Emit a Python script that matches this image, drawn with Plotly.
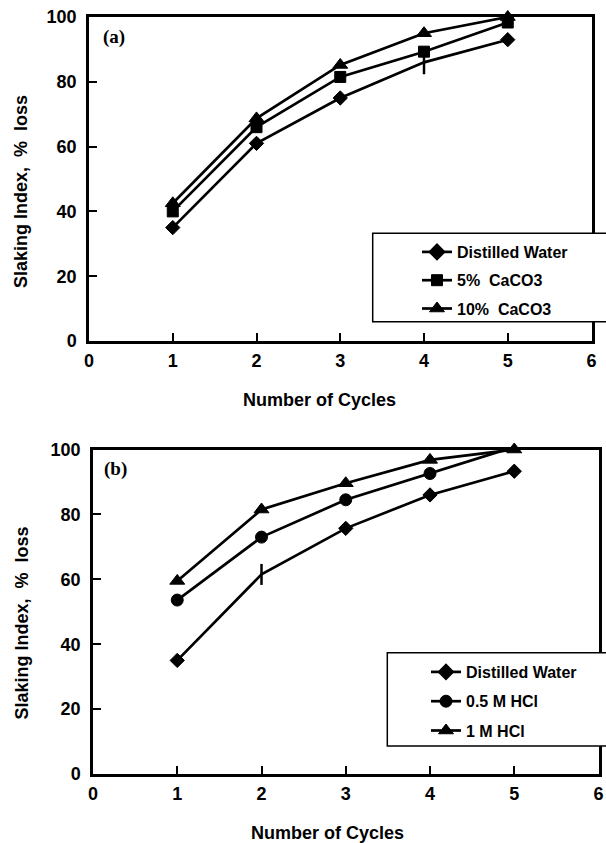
import plotly.graph_objects as go

# ---------------- data ----------------
cycles = [1, 2, 3, 4, 5]

# panel (a)
a_distilled = [35, 61, 75, 86, 93]
a_caco3_5 = [40, 66, 81.5, 89.3, 98.3]
a_caco3_10 = [42.5, 68.7, 85.2, 95, 100]

# panel (b)
b_distilled = [35, 61.5, 75.7, 86, 93.3]
b_hcl_05 = [53.6, 73, 84.5, 92.6, 100.8]
b_hcl_1 = [59.5, 81.5, 89.6, 96.8, 100]

names_a = ["Distilled Water", "5%  CaCO3", "10%  CaCO3"]
names_b = ["Distilled Water", "0.5 M HCl", "1 M HCl"]

x_ticks = [0, 1, 2, 3, 4, 5, 6]
y_ticks = [0, 20, 40, 60, 80, 100]

# ---------------- styles ----------------
W, H = 606, 843
SANS = "Liberation Sans, Arial, Helvetica, sans-serif"
SERIF = "Liberation Serif, Times New Roman, serif"
LW = 2.7

def px_x(p):
    return p / W

def px_y(p):
    return 1 - p / H

fig = go.Figure()

def add_series(x, y, name, symbol, size, lwidth, xa, ya, legend, group, rank):
    fig.add_trace(go.Scatter(
        x=x, y=y, name=name, mode="lines+markers",
        line=dict(color="black", width=LW),
        marker=dict(symbol=symbol, size=size, color="black", opacity=1,
                    line=dict(color="black", width=lwidth)),
        xaxis=xa, yaxis=ya, legend=legend, legendgroup=group,
        legendrank=rank, cliponaxis=False,
    ))

# panel (a)
add_series(cycles, a_distilled, names_a[0],
           ["diamond", "diamond", "diamond", "line-ns", "diamond"],
           [11, 11, 11, 17, 11], [1, 1, 1, 2.5, 1], "x", "y", "legend", "a1", 1)
add_series(cycles, a_caco3_5, names_a[1], "square", 11, 1, "x", "y", "legend", "a2", 2)
add_series(cycles, a_caco3_10, names_a[2], "triangle-up", 13, 1, "x", "y", "legend", "a3", 3)

# panel (b)
add_series(cycles, b_distilled, names_b[0],
           ["diamond", "line-ns", "diamond", "diamond", "diamond"],
           [11, 15, 11, 11, 11], [1, 2.5, 1, 1, 1], "x2", "y2", "legend2", "b1", 1)
add_series(cycles, b_hcl_1, names_b[2], "triangle-up", 13, 1, "x2", "y2", "legend2", "b3", 3)
add_series(cycles, b_hcl_05, names_b[1], "circle", 12, 1, "x2", "y2", "legend2", "b2", 2)

tickfont = dict(family=SANS, size=18, color="black", weight="bold")

def xaxis_cfg(domain, anchor):
    return dict(domain=domain, anchor=anchor, range=[0, 6], tickvals=x_ticks,
                ticks="inside", ticklen=8, tickwidth=1.5, tickcolor="black",
                showline=True, linecolor="black", linewidth=2.5, mirror=True,
                showgrid=False, zeroline=False, tickfont=tickfont,
                ticklabelstandoff=2, fixedrange=True)

def yaxis_cfg(domain, anchor):
    return dict(domain=domain, anchor=anchor, range=[0, 100], tickvals=y_ticks,
                ticks="inside", ticklen=8, tickwidth=1.5, tickcolor="black",
                showline=True, linecolor="black", linewidth=2.5, mirror=True,
                showgrid=False, zeroline=False, tickfont=tickfont,
                ticklabelstandoff=6, fixedrange=True)

legend_font = dict(family=SANS, size=16, color="black", weight="bold")

fig.update_layout(
    width=W, height=H,
    margin=dict(l=0, r=0, t=0, b=0, autoexpand=False),
    paper_bgcolor="white", plot_bgcolor="white",
    xaxis=xaxis_cfg([px_x(89), px_x(591.5)], "y"),
    yaxis=yaxis_cfg([px_y(341), px_y(17)], "x"),
    xaxis2=xaxis_cfg([px_x(93), px_x(598.5)], "y2"),
    yaxis2=yaxis_cfg([px_y(774), px_y(449.5)], "x2"),
    legend=dict(x=px_x(417), xanchor="left", y=px_y(235), yanchor="top",
                bgcolor="rgba(0,0,0,0)", borderwidth=0, font=legend_font,
                tracegroupgap=4.5, traceorder="grouped"),
    legend2=dict(x=px_x(426), xanchor="left", y=px_y(655), yanchor="top",
                 bgcolor="rgba(0,0,0,0)", borderwidth=0, font=legend_font,
                 tracegroupgap=5.5, traceorder="grouped"),
    shapes=[
        dict(type="rect", xref="paper", yref="paper",
             x0=px_x(372.7), x1=1.05, y0=px_y(321.7), y1=px_y(233.3),
             fillcolor="white", line=dict(color="black", width=1.5), layer="above"),
        dict(type="rect", xref="paper", yref="paper",
             x0=px_x(387.3), x1=1.05, y0=px_y(746), y1=px_y(652.7),
             fillcolor="white", line=dict(color="black", width=1.5), layer="above"),
    ],
    showlegend=True,
)

title_font = dict(family=SANS, size=18, color="black", weight="bold")
panel_font = dict(family=SERIF, size=19, color="black", weight="bold")

annotations = [
    dict(text="(a)", x=px_x(114), y=px_y(37), font=panel_font),
    dict(text="(b)", x=px_x(115.5), y=px_y(469), font=panel_font),
    dict(text="Number of Cycles", x=px_x(320), y=px_y(400), font=title_font),
    dict(text="Number of Cycles", x=px_x(327), y=px_y(833), font=title_font),
    dict(text="Slaking Index,\u00a0 %\u00a0 loss", x=px_x(21), y=px_y(192),
         font=title_font, textangle=-90),
    dict(text="Slaking Index,\u00a0 %\u00a0 loss", x=px_x(21), y=px_y(623.5),
         font=title_font, textangle=-90),
]
for a in annotations:
    a.update(xref="paper", yref="paper", xanchor="center", yanchor="middle",
             showarrow=False)
fig.update_layout(annotations=annotations)

fig.write_html("out.html")
